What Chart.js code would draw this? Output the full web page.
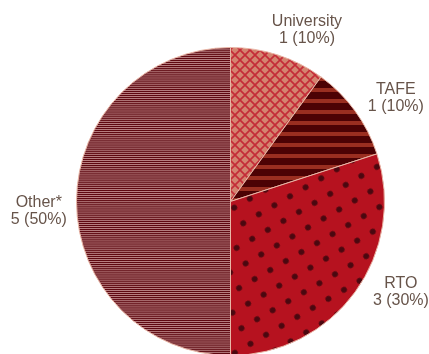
<!DOCTYPE html>
<html>
<head>
<meta charset="utf-8">
<script src="https://cdn.jsdelivr.net/npm/chart.js@4.4.1/dist/chart.umd.min.js"></script>
<style>
  html, body { margin: 0; padding: 0; background: #fff; overflow: hidden; }
  #wrap { width: 429px; height: 360px; }
</style>
</head>
<body>
<div id="wrap"><canvas id="pie" width="429" height="360"></canvas></div>
<script>
(function(){
    const categories = ['University', 'TAFE', 'RTO', 'Other*'];
    const counts = [1, 1, 3, 5];
    const percents = [10, 10, 30, 50];

    function tile(w, h, draw) {
        const c = document.createElement('canvas');
        c.width = w;
        c.height = h;
        draw(c.getContext('2d'), w, h);
        return c;
    }

    const ctx = document.getElementById('pie').getContext('2d');

    // crosshatch on salmon
    const cross = ctx.createPattern(tile(10, 10, (g, w, h) => {
        g.fillStyle = '#d4846f';
        g.fillRect(0, 0, w, h);
        g.strokeStyle = '#c42c38';
        g.lineWidth = 1.7;
        for (let k = -1; k <= 1; k++) {
            g.beginPath();
            g.moveTo(k * w, 0); g.lineTo(k * w + w, h);
            g.moveTo(k * w + w, 0); g.lineTo(k * w, h);
            g.stroke();
        }
    }), 'repeat');

    // wide horizontal bands
    const bands = ctx.createPattern(tile(4, 11, (g, w, h) => {
        g.fillStyle = '#4c0204';
        g.fillRect(0, 0, w, h);
        g.fillStyle = '#9a2e20';
        g.fillRect(0, 0, w, 4);
    }), 'repeat');

    // dots on red, rotated lattice
    const dots = ctx.createPattern(tile(18, 18, (g, w, h) => {
        g.fillStyle = '#b6121f';
        g.fillRect(0, 0, w, h);
        g.fillStyle = '#4a0810';
        g.beginPath();
        g.arc(9, 9, 2.9, 0, Math.PI * 2);
        g.fill();
    }), 'repeat');
    dots.setTransform(new DOMMatrix().rotate(60));

    // fine pinstripes
    const pins = ctx.createPattern(tile(4, 33, (g, w, h) => {
        g.fillStyle = '#d2a2a2';
        g.fillRect(0, 0, w, h);
        g.fillStyle = '#5e0810';
        const step = h / 16;
        for (let i = 0; i < 16; i++) {
            g.fillRect(0, i * step, w, 1.3);
        }
    }), 'repeat');

    const labelPlugin = {
        id: 'sliceLabels',
        afterDraw(chart, args, opts) {
            const c = chart.ctx;
            const arcs = chart.getDatasetMeta(0).data;
            c.save();
            c.font = opts.font;
            c.fillStyle = opts.color;
            c.textAlign = 'center';
            c.textBaseline = 'middle';
            arcs.forEach((arc, i) => {
                const p = arc.getProps(['x', 'y', 'startAngle', 'endAngle', 'outerRadius'], true);
                const a = (p.startAngle + p.endAngle) / 2 + opts.shift[i] * Math.PI / 180;
                const r = p.outerRadius + opts.gap[i];
                const x = p.x + Math.cos(a) * r;
                const y = p.y + Math.sin(a) * r;
                const lh = opts.lineHeight;
                c.fillText(categories[i], x, y - lh / 2);
                c.fillText(counts[i] + ' (' + percents[i] + '%)', x, y + lh / 2);
            });
            c.restore();
        }
    };

    new Chart(ctx, {
        type: 'pie',
        data: {
            labels: categories,
            datasets: [{
                data: counts,
                backgroundColor: [cross, bands, dots, pins],
                borderColor: '#e9b6a6',
                borderWidth: 1
            }]
        },
        options: {
            responsive: false,
            animation: false,
            layout: { padding: { left: 76, right: 44, top: 47, bottom: 4 } },
            plugins: {
                legend: { display: false },
                tooltip: { enabled: false },
                sliceLabels: {
                    font: '16px "Liberation Sans", Arial, sans-serif',
                    color: '#67544a',
                    lineHeight: 17,
                    shift: [6, 4, -8, -3],
                    gap: [34, 41, 39, 38]
                }
            }
        },
        plugins: [labelPlugin]
    });
})();
</script>
</body>
</html>
